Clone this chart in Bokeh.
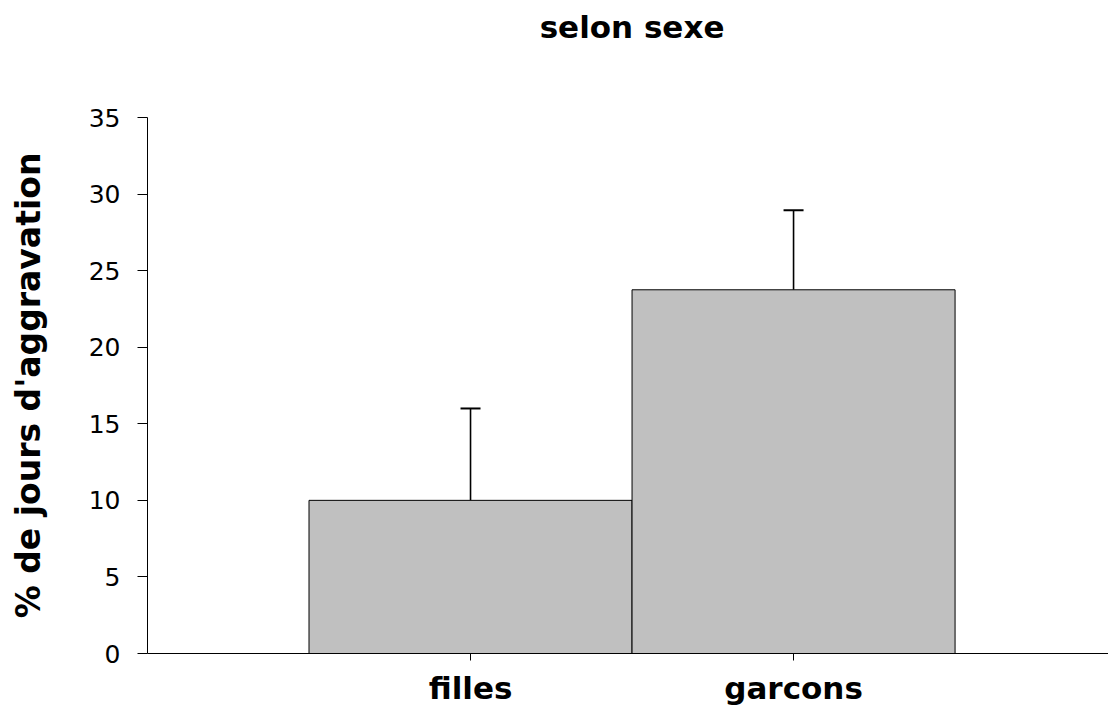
from bokeh.plotting import figure
from bokeh.models import (Range1d, FixedTicker, ColumnDataSource, Whisker, TeeHead,
                          LinearAxis)
from bokeh.embed import file_html
from bokeh.resources import INLINE

categories = ["filles", "garcons"]
values = [10.0, 23.75]
errors = [6.0, 5.2]
y_ticks = [0, 5, 10, 15, 20, 25, 30, 35]
title_text = "selon sexe"
y_label = "% de jours d'aggravation"

xs = [i + 1 for i in range(len(categories))]
src = ColumnDataSource(dict(
    x=xs, top=values,
    upper=[v + e for v, e in zip(values, errors)],
    lower=values,
))

FONT = "DejaVu Sans"

p = figure(width=1108, height=709, output_backend="svg", toolbar_location=None,
           title=None,
           x_range=Range1d(0, 2.975), y_range=Range1d(0, 35),
           min_border_left=147, min_border_right=0, min_border_top=117,
           min_border_bottom=56)
p.outline_line_color = None
p.background_fill_color = "white"
p.border_fill_color = "white"
p.xgrid.visible = False
p.ygrid.visible = False

xax = p.below[0]
yax = p.left[0]

p.vbar(x="x", top="top", bottom=0, width=1.0, source=src,
       fill_color="#c0c0c0", line_color="black", line_width=1)

w = Whisker(base="x", upper="upper", lower="lower", source=src,
            line_color="black", line_width=1.6,
            upper_head=TeeHead(size=20, line_color="black", line_width=2),
            lower_head=None)
p.add_layout(w)

# title, drawn as the only label of an otherwise invisible top axis
title_x = sum(xs) / len(xs)
title_axis = LinearAxis(ticker=FixedTicker(ticks=[title_x]),
                        major_label_overrides={title_x: title_text},
                        axis_line_color=None, major_tick_line_color=None,
                        minor_tick_line_color=None,
                        major_tick_out=0, major_tick_in=0,
                        major_label_standoff=73,
                        major_label_text_font=FONT,
                        major_label_text_font_size="31px",
                        major_label_text_font_style="bold",
                        major_label_text_color="black")
p.add_layout(title_axis, "above")

# y axis
yax.ticker = FixedTicker(ticks=y_ticks)
yax.major_tick_out = 10
yax.major_tick_in = 0
yax.minor_tick_line_color = None
yax.axis_line_color = "black"
yax.major_tick_line_color = "black"
yax.major_label_text_font = FONT
yax.major_label_text_font_size = "25px"
yax.major_label_text_color = "black"
yax.major_label_standoff = 17
yax.axis_label = y_label
yax.axis_label_text_font = FONT
yax.axis_label_text_font_size = "33px"
yax.axis_label_text_font_style = "bold"
yax.axis_label_text_color = "black"
yax.axis_label_standoff = 38

# x axis
xax.ticker = FixedTicker(ticks=xs)
xax.major_label_overrides = {x: c for x, c in zip(xs, categories)}
xax.major_tick_out = 7
xax.major_tick_in = 0
xax.minor_tick_line_color = None
xax.axis_line_color = "black"
xax.major_tick_line_color = "black"
xax.major_label_text_font = FONT
xax.major_label_text_font_size = "31px"
xax.major_label_text_font_style = "bold"
xax.major_label_text_color = "black"
xax.major_label_standoff = 9

open("out.html", "w").write(file_html(p, INLINE))
